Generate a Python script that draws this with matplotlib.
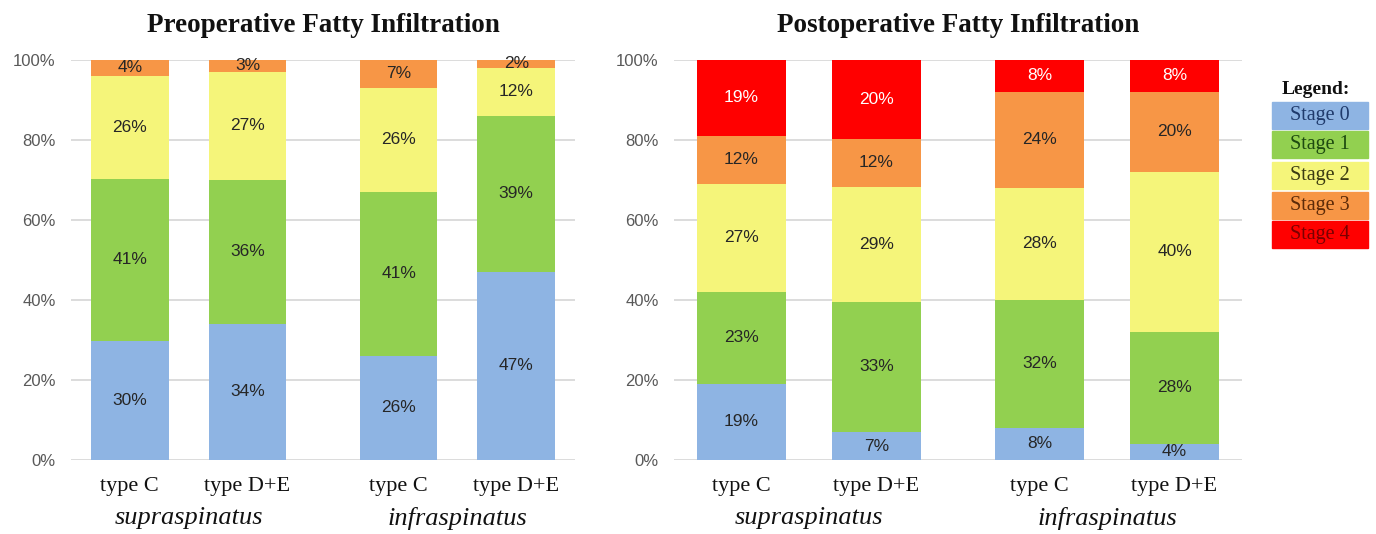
import matplotlib.pyplot as plt
import numpy as np
from matplotlib.patches import Rectangle

plt.rcParams['font.family'] = ['Liberation Sans', 'DejaVu Sans']
SERIF = ['Liberation Serif', 'DejaVu Serif']

stages = ['Stage 0', 'Stage 1', 'Stage 2', 'Stage 3', 'Stage 4']
colors = ['#8EB4E3', '#92D050', '#F5F57A', '#F79646', '#FF0000']
legend_text_colors = ['#1F3A6B', '#1D4A10', '#3B3B12', '#5C2A08', '#7A0000']

bar_labels = ['type C', 'type D+E', 'type C', 'type D+E']
muscles = ['supraspinatus', 'infraspinatus']

# percentages per bar, stage 0..4
pre = [[30, 41, 26, 4, 0],
       [34, 36, 27, 3, 0],
       [26, 41, 26, 7, 0],
       [47, 39, 12, 2, 0]]
post = [[19, 23, 27, 12, 19],
        [7, 33, 29, 12, 20],
        [8, 32, 28, 24, 8],
        [4, 28, 40, 20, 8]]

W, H = 1376, 534
fig = plt.figure(figsize=(W / 100, H / 100), dpi=100)


def panel(rect, data, title, gap):
    ax = fig.add_axes(rect)
    x = np.array([0, 1, 1 + gap, 2 + gap])
    vals = np.array(data, dtype=float)
    vals = vals / vals.sum(axis=1, keepdims=True) * 100  # 100% stacked
    bottom = np.zeros(len(x))
    for s in range(len(stages)):
        ax.bar(x, vals[:, s], 0.66, bottom=bottom, color=colors[s], zorder=2)
        for i in range(len(x)):
            v = np.array(data)[i, s]
            if v > 0:
                ax.text(x[i], bottom[i] + vals[i, s] / 2, f'{v}%', ha='center', va='center',
                        fontsize=12.5, color='white' if s == 4 else '#262626', zorder=3)
        bottom += vals[:, s]
    ax.set_xlim(-0.5, 2.5 + gap)
    ax.set_ylim(0, 100)
    ax.set_yticks(np.arange(0, 101, 20))
    ax.set_yticklabels([f'{v}%' for v in range(0, 101, 20)], fontsize=12, color='#595959')
    ax.yaxis.grid(True, color='#D9D9D9', linewidth=1.3, zorder=0)
    ax.set_xticks(x)
    ax.set_xticklabels(bar_labels, fontsize=16, family=SERIF, color='#111111')
    ax.tick_params(length=0)
    ax.tick_params(axis='y', pad=11)
    ax.tick_params(axis='x', pad=12)
    for sp in ax.spines.values():
        sp.set_visible(False)
    for j, m in enumerate(muscles):
        xc = (x[2 * j] + x[2 * j + 1]) / 2
        ax.text(xc, -0.145, m, transform=ax.get_xaxis_transform(), ha='center', va='center',
                fontsize=19, style='italic', family=SERIF, color='#111111')
    ax.text(0.5, 1.0875, title, transform=ax.transAxes, ha='center', va='center',
            fontsize=19.5, weight='bold', family=SERIF, color='#111111')
    return ax


bot = (H - 460) / H
hgt = 400 / H
panel([71 / W, bot, 504 / W, hgt], pre, 'Preoperative Fatty Infiltration', 1.285)
panel([674 / W, bot, 568 / W, hgt], post, 'Postoperative Fatty Infiltration', 1.21)

# legend
fig.text(1316 / W, 1 - 89 / H, 'Legend:', ha='center', va='center', fontsize=14,
         weight='bold', family=SERIF, color='#111111')
tops = [102, 131, 162, 192, 221]
for s, t in enumerate(tops):
    fig.add_artist(Rectangle((1272 / W, 1 - (t + 27) / H), 96 / W, 27 / H,
                             transform=fig.transFigure, color=colors[s]))
    fig.text(1320 / W, 1 - (t + 13.5) / H, stages[s], ha='center', va='center', fontsize=14.5,
             family=SERIF, color=legend_text_colors[s])

plt.savefig('out.png', dpi=100)
